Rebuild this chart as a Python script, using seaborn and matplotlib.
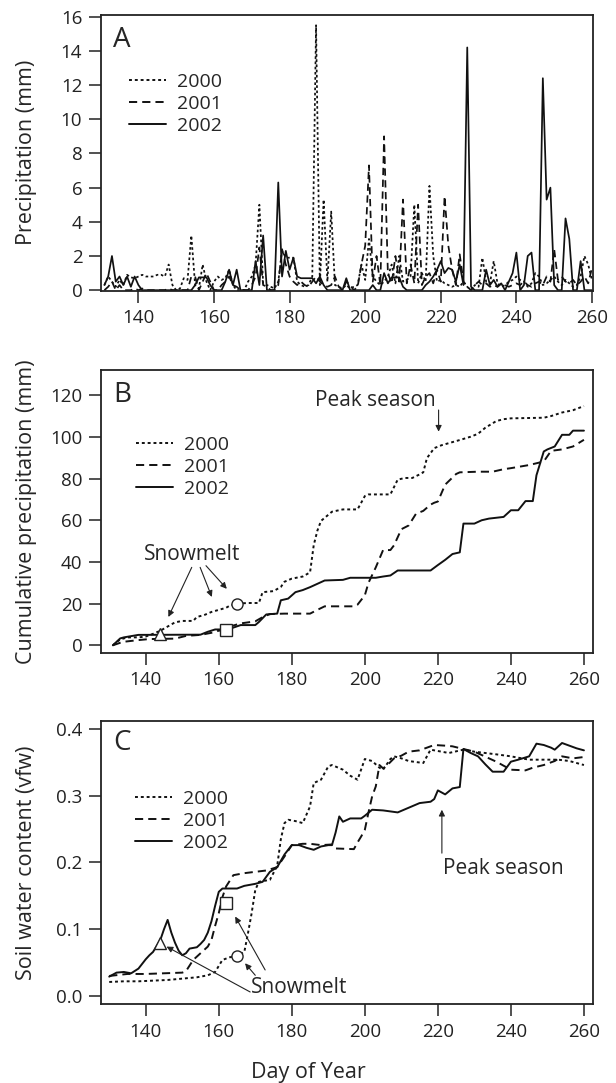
import matplotlib
matplotlib.use("Agg")
import matplotlib.pyplot as plt
import seaborn as sns
import pandas as pd

# ---------------- DATA ----------------
years = ["2000", "2001", "2002"]

# Panel A: daily precipitation (mm), day of year 131..260
precip_days = list(range(131, 261))
precip_2000 = [
    0.3, 0.8, 0.5, 0.2, 0.6, 0.3, 0.9, 0.75, 0.7, 0.8,
    0.9, 0.8, 0.8, 0.8, 0.9, 0.9, 0.8, 1.5, 0.3, 0.0,
    0.1, 0.7, 0.6, 3.2, 0.3, 0.1, 1.5, 0.5, 0.0, 0.5,
    0.8, 0.6, 0.7, 1.2, 0.3, 0.0, 0.0, 0.0, 0.5, 0.8,
    1.5, 5.0, 0.4, 0.3, 0.2, 0.1, 0.5, 2.3, 1.9, 1.9,
    1.9, 0.5, 0.3, 0.2, 0.3, 0.8, 15.5, 0.3, 5.3, 0.5,
    4.6, 0.3, 0.2, 0.1, 0.3, 0.1, 0.2, 0.3, 1.5, 0.6,
    3.0, 0.8, 0.5, 0.3, 0.5, 0.8, 1.5, 0.4, 2.0, 0.5,
    0.6, 0.8, 5.0, 0.4, 1.0, 0.5, 6.1, 2.0, 0.5, 0.6,
    0.4, 0.3, 0.2, 0.3, 0.2, 0.5, 0.2, 0.0, 0.3, 0.2,
    1.9, 0.5, 0.4, 1.7, 0.4, 0.2, 0.3, 0.5, 0.6, 0.8,
    0.6, 0.5, 0.2, 0.4, 1.0, 0.8, 0.3, 0.4, 0.6, 0.8,
    0.5, 0.3, 0.6, 0.4, 0.2, 0.3, 0.8, 2.0, 1.5, 0.6,
]
precip_2001 = [
    0.0, 0.2, 0.5, 0.0, 0.3, 0.0, 0.0, 0.0, 0.1, 0.0,
    0.1, 0.0, 0.0, 0.0, 0.0, 0.0, 0.0, 0.1, 0.0, 0.0,
    0.0, 0.0, 0.0, 0.8, 0.8, 0.0, 0.5, 1.0, 0.5, 0.0,
    0.0, 0.3, 0.5, 0.8, 0.3, 0.2, 0.0, 0.0, 0.0, 0.3,
    0.8, 2.5, 0.3, 0.2, 0.0, 0.0, 0.3, 2.4, 1.5, 0.8,
    0.5, 0.3, 0.5, 0.3, 0.2, 0.5, 0.8, 0.5, 0.3, 0.2,
    0.3, 0.8, 0.2, 0.0, 0.5, 0.3, 0.0, 0.2, 1.5, 2.6,
    7.3, 0.5, 2.0, 0.3, 9.0, 1.0, 0.4, 2.0, 0.5, 5.3,
    0.4, 1.5, 0.4, 5.0, 0.3, 0.8, 1.0, 0.4, 1.2, 0.5,
    5.5, 2.6, 1.2, 0.3, 2.1, 0.5, 0.2, 0.0, 0.3, 0.5,
    0.3, 0.4, 0.2, 0.3, 0.2, 0.4, 0.3, 0.2, 0.3, 0.4,
    0.3, 0.5, 0.3, 0.2, 0.4, 0.5, 0.3, 0.8, 0.5, 2.4,
    0.6, 0.8, 0.5, 0.4, 0.6, 0.3, 0.5, 0.8, 0.4, 1.3,
]
precip_2002 = [
    0.3, 0.8, 2.0, 0.5, 0.8, 0.3, 0.8, 0.2, 0.8, 0.3,
    0.0, 0.0, 0.0, 0.0, 0.0, 0.0, 0.0, 0.0, 0.0, 0.0,
    0.0, 0.0, 0.0, 0.0, 0.3, 0.75, 0.75, 0.75, 0.3, 0.0,
    0.0, 0.0, 0.5, 1.2, 0.3, 1.2, 0.0, 0.0, 0.0, 0.0,
    1.7, 0.3, 3.2, 0.0, 0.0, 0.0, 6.3, 0.8, 2.3, 1.2,
    1.9, 0.8, 0.7, 0.7, 0.7, 0.7, 0.4, 0.8, 0.3, 0.0,
    0.0, 0.0, 0.0, 0.0, 0.7, 0.0, 0.0, 0.0, 0.0, 0.0,
    0.0, 0.3, 0.0, 0.0, 1.0, 0.4, 0.75, 0.75, 0.75, 0.2,
    0.0, 0.0, 0.0, 0.0, 0.0, 0.3, 0.5, 0.8, 1.2, 1.7,
    1.0, 1.3, 1.2, 0.5, 1.5, 0.3, 14.2, 0.2, 0.0, 0.0,
    0.0, 1.2, 0.3, 0.6, 0.2, 0.4, 0.0, 0.5, 1.0, 2.2,
    0.0, 0.3, 2.0, 2.2, 0.0, 0.0, 12.4, 5.3, 6.0, 0.3,
    0.0, 0.0, 4.2, 3.0, 0.0, 0.0, 1.7, 0.0, 0.0, 0.0,
]

# Panel B: cumulative precipitation (mm)
cum_days_2000 = [131, 132, 133, 135, 138, 140, 142, 144, 146, 148, 150, 153, 154, 156, 158,
                 160, 162, 163, 165, 168, 171, 172, 175, 177, 178, 180, 183, 185, 186, 187,
                 188, 191, 194, 198, 200, 201, 207, 209, 211, 213, 215, 216, 217, 219, 221,
                 223, 226, 229, 231, 233, 236, 238, 240, 249, 251, 254, 257, 260]
cum_2000 = [0.0, 1.5, 2.8, 3.8, 3.8, 4.2, 5.5, 7.0, 9.0, 11.0, 11.7, 11.7, 13.6, 14.5, 16.0,
            17.0, 18.0, 19.0, 20.0, 20.3, 20.3, 25.5, 26.0, 28.0, 30.5, 32.0, 33.0, 35.0, 48.0, 55.0,
            59.7, 64.1, 65.2, 65.2, 71.6, 72.4, 72.4, 79.5, 80.3, 80.3, 82.0, 83.0, 89.8, 94.6, 96.0,
            97.0, 98.5, 100.1, 101.5, 104.4, 107.6, 108.5, 108.9, 109.2, 110.0, 111.7, 112.8, 114.8]
cum_days_2001 = [131, 133, 134, 138, 141, 148, 151, 155, 158, 160, 162, 164, 166, 170, 172,
                 174, 178, 185, 187, 189, 197, 198, 200, 201, 203, 205, 207, 208, 210, 212,
                 214, 216, 218, 219, 220, 222, 224, 225, 226, 231, 235, 238, 240, 245, 249,
                 251, 254, 257, 260]
cum_2001 = [0.0, 1.2, 1.7, 2.5, 3.0, 3.2, 4.5, 5.0, 6.0, 7.0, 7.5, 9.5, 10.5, 11.5, 13.5,
            15.0, 15.2, 15.2, 17.0, 18.7, 18.7, 19.5, 24.0, 30.0, 37.4, 45.7, 45.7, 48.0, 55.7, 57.5,
            63.1, 64.5, 67.5, 68.4, 69.0, 77.1, 80.5, 82.2, 83.0, 83.3, 83.3, 84.5, 85.0, 86.5, 88.2,
            93.3, 94.0, 95.4, 98.6]
cum_days_2002 = [131, 133, 134, 136, 138, 155, 157, 159, 162, 164, 166, 170, 171, 173, 176,
                 177, 179, 181, 183, 185, 187, 189, 194, 196, 203, 205, 207, 209, 218, 220,
                 222, 224, 226, 227, 230, 232, 234, 238, 240, 242, 244, 246, 247, 249, 250,
                 252, 254, 256, 257, 260]
cum_2002 = [0.0, 3.3, 3.8, 4.4, 5.0, 5.1, 6.5, 7.6, 7.6, 8.5, 9.7, 9.7, 11.2, 14.8, 15.2,
            21.6, 22.4, 25.5, 26.5, 27.9, 29.5, 31.1, 31.4, 32.4, 32.4, 33.0, 33.5, 35.9, 35.9, 38.5,
            41.0, 43.8, 44.6, 58.4, 58.4, 60.0, 60.8, 61.6, 64.8, 64.8, 69.2, 69.2, 81.6, 93.0, 94.0,
            95.4, 101.0, 101.0, 103.0, 103.0]

# Panel C: soil water content (vfw)
swc_days_2000 = [130, 134, 138, 142, 146, 150, 154, 157, 159, 160, 161, 163, 165, 167, 168,
                 169, 170, 171, 174, 176, 177, 178, 179, 181, 183, 185, 186, 188, 190, 191,
                 194, 196, 198, 200, 202, 204, 205, 207, 208, 210, 212, 216, 218, 221, 223,
                 227, 230, 233, 236, 240, 245, 250, 253, 256, 260]
swc_2000 = [0.021, 0.022, 0.022, 0.023, 0.024, 0.026, 0.028, 0.031, 0.036, 0.045, 0.054, 0.058,
            0.060, 0.066, 0.094, 0.124, 0.159, 0.171, 0.174, 0.195, 0.235, 0.259, 0.264, 0.262,
            0.259, 0.284, 0.319, 0.324, 0.344, 0.346, 0.339, 0.330, 0.324, 0.355, 0.352, 0.342,
            0.339, 0.355, 0.359, 0.356, 0.352, 0.349, 0.369, 0.366, 0.364, 0.369, 0.366, 0.364,
            0.362, 0.359, 0.354, 0.354, 0.354, 0.352, 0.346]
swc_days_2001 = [130, 135, 140, 145, 150, 151, 153, 155, 157, 158, 159, 160, 161, 162, 164,
                 167, 170, 173, 176, 178, 180, 183, 185, 188, 191, 192, 197, 198, 199, 200,
                 201, 202, 203, 204, 205, 206, 208, 210, 212, 215, 217, 219, 222, 224, 227,
                 230, 232, 236, 240, 244, 246, 249, 252, 254, 257, 260]
swc_2001 = [0.030, 0.033, 0.033, 0.034, 0.035, 0.037, 0.054, 0.064, 0.074, 0.084, 0.105, 0.124,
            0.148, 0.164, 0.181, 0.184, 0.186, 0.188, 0.193, 0.209, 0.226, 0.228, 0.228, 0.226,
            0.227, 0.221, 0.220, 0.230, 0.239, 0.249, 0.275, 0.299, 0.314, 0.346, 0.341, 0.345,
            0.356, 0.360, 0.366, 0.368, 0.372, 0.376, 0.375, 0.374, 0.370, 0.366, 0.361, 0.351,
            0.339, 0.338, 0.342, 0.346, 0.352, 0.359, 0.356, 0.358]
swc_days_2002 = [130, 132, 134, 136, 138, 140, 141, 142, 143, 144, 145, 146, 147, 148, 149,
                 150, 151, 152, 154, 155, 156, 157, 158, 159, 160, 161, 165, 167, 170, 172,
                 174, 176, 178, 180, 182, 184, 186, 188, 190, 191, 192, 193, 194, 196, 199,
                 200, 202, 205, 209, 212, 215, 218, 219, 220, 222, 224, 226, 227, 229, 231,
                 233, 235, 238, 240, 242, 245, 247, 249, 251, 252, 254, 256, 258, 260]
swc_2002 = [0.029, 0.035, 0.036, 0.034, 0.041, 0.055, 0.061, 0.066, 0.075, 0.084, 0.100, 0.114,
            0.095, 0.080, 0.068, 0.061, 0.064, 0.071, 0.073, 0.078, 0.084, 0.095, 0.112, 0.135,
            0.156, 0.161, 0.161, 0.165, 0.168, 0.171, 0.186, 0.193, 0.212, 0.226, 0.226, 0.222,
            0.219, 0.224, 0.226, 0.226, 0.245, 0.269, 0.261, 0.266, 0.266, 0.270, 0.279, 0.278,
            0.275, 0.282, 0.289, 0.291, 0.295, 0.308, 0.302, 0.311, 0.313, 0.370, 0.364, 0.359,
            0.347, 0.336, 0.336, 0.351, 0.354, 0.359, 0.378, 0.376, 0.372, 0.369, 0.379, 0.375,
            0.371, 0.368]

# Snowmelt markers (day, value) for 2000 (circle), 2001 (square), 2002 (triangle)
snow_days = [165, 162, 144]
snow_cum = [20.0, 7.3, 5.4]
snow_swc = [0.060, 0.140, 0.080]

# ---------------- STYLE ----------------
sns.set_style("ticks")
FONT = ["Open Sans", "DejaVu Sans"]
plt.rcParams["font.family"] = FONT
plt.rcParams["axes.edgecolor"] = "#222222"

LW = 1.4
styles = {"2000": (0, (1.5, 1.5)), "2001": (0, (4.2, 2.6)), "2002": "-"}
markers = ["o", "s", "^"]

W, H = 616, 1083
fig = plt.figure(figsize=(W / 100, H / 100), dpi=100)


def px_axes(left, top, right, bottom):
    return fig.add_axes([left / W, 1 - bottom / H, (right - left) / W, (bottom - top) / H])


axA = px_axes(101, 15, 593.3, 290.7)
axB = px_axes(101, 370, 592.7, 652.7)
axC = px_axes(101, 720.7, 592.7, 1004)


def style_axes(ax):
    for s in ax.spines.values():
        s.set_visible(True)
        s.set_linewidth(1.3)
        s.set_color("#222222")
    ax.tick_params(direction="out", length=8.5, width=1.1, labelsize=13.5, pad=5,
                   color="#222222", labelcolor="#222222")


# ---- Panel A ----
dfA = pd.DataFrame({"day": precip_days, "2000": precip_2000, "2001": precip_2001, "2002": precip_2002})
for y in years:
    sns.lineplot(data=dfA, x="day", y=y, ax=axA, color="#111111", lw=1.25,
                 linestyle=styles[y], label=y)
axA.set_xlim(130.1, 260.35)
axA.set_ylim(-0.03, 16.1)
axA.set_yticks(range(0, 17, 2))
axA.set_xticks(range(140, 261, 20))
axA.set_xlabel("")
axA.set_ylabel("Precipitation (mm)", fontsize=15.5)
style_axes(axA)
axA.text(0.024, 0.884, "A", transform=axA.transAxes, fontsize=20, va="baseline", ha="left")

# ---- Panel B ----
cum_sets = [(cum_days_2000, cum_2000), (cum_days_2001, cum_2001), (cum_days_2002, cum_2002)]
for y, (d, v) in zip(years, cum_sets):
    sns.lineplot(x=d, y=v, ax=axB, color="#111111", lw=LW, linestyle=styles[y], label=y)
for m, d, v in zip(markers, snow_days, snow_cum):
    axB.plot(d, v, marker=m, ms=8, mfc="white", mec="#222222", mew=1.0, ls="none", zorder=5)
axB.set_xlim(127.75, 262.4)
axB.set_ylim(-3.55, 132.1)
axB.set_yticks(range(0, 121, 20))
axB.set_xticks(range(140, 261, 20))
axB.set_ylabel("Cumulative precipitation (mm)", fontsize=15.5)
axB.set_xlabel("")
style_axes(axB)
axB.text(0.024, 0.887, "B", transform=axB.transAxes, fontsize=20, va="baseline", ha="left")
axB.text(152.6, 43.8, "Snowmelt", fontsize=15, ha="center", va="center")
arrow_kw = dict(arrowstyle="-|>", lw=0.8, color="#222222", mutation_scale=9, shrinkA=0, shrinkB=0)
axB.annotate("", xy=(146.2, 13.6), xytext=(152.6, 37.4), arrowprops=arrow_kw)
axB.annotate("", xy=(158.1, 23.2), xytext=(154.9, 37.4), arrowprops=arrow_kw)
axB.annotate("", xy=(162.2, 27.1), xytext=(156.5, 38.2), arrowprops=arrow_kw)
axB.text(203.0, 117.6, "Peak season", fontsize=15, ha="center", va="center")
axB.annotate("", xy=(220.2, 102.5), xytext=(220.2, 112.9), arrowprops=arrow_kw)

# ---- Panel C ----
swc_sets = [(swc_days_2000, swc_2000), (swc_days_2001, swc_2001), (swc_days_2002, swc_2002)]
for y, (d, v) in zip(years, swc_sets):
    sns.lineplot(x=d, y=v, ax=axC, color="#111111", lw=LW, linestyle=styles[y], label=y)
for m, d, v in zip(markers, snow_days, snow_swc):
    axC.plot(d, v, marker=m, ms=8, mfc="white", mec="#222222", mew=1.0, ls="none", zorder=5)
axC.set_xlim(127.75, 262.4)
axC.set_ylim(-0.012, 0.4124)
axC.set_yticks([0.0, 0.1, 0.2, 0.3, 0.4])
axC.set_yticklabels(["0.0", "0.1", "0.2", "0.3", "0.4"])
axC.set_xticks(range(140, 261, 20))
axC.set_ylabel("Soil water content (vfw)", fontsize=15.5)
axC.set_xlabel("")
style_axes(axC)
axC.text(0.024, 0.897, "C", transform=axC.transAxes, fontsize=20, va="baseline", ha="left")
axC.text(168.8, 0.0125, "Snowmelt", fontsize=15, ha="left", va="center")
axC.annotate("", xy=(145.7, 0.074), xytext=(168.6, 0.006), arrowprops=arrow_kw)
axC.annotate("", xy=(167.2, 0.049), xytext=(170.0, 0.031), arrowprops=arrow_kw)
axC.annotate("", xy=(164.5, 0.119), xytext=(172.7, 0.039), arrowprops=arrow_kw)
axC.text(221.3, 0.191, "Peak season", fontsize=15, ha="left", va="center")
axC.annotate("", xy=(221.1, 0.279), xytext=(221.1, 0.214), arrowprops=arrow_kw)

fig.text(0.5, 1 - 1078 / H, "Day of Year", fontsize=15.5, ha="center", va="baseline")

# legends
for ax, anchor in [(axA, (0.057, 0.79)), (axB, (0.071, 0.767)), (axC, (0.069, 0.756))]:
    leg = ax.legend(loc="upper left", bbox_to_anchor=anchor, frameon=False, fontsize=14,
                    handlelength=1.9, handletextpad=0.57, labelspacing=0.2,
                    borderpad=0, borderaxespad=0)
    for line in leg.get_lines():
        line.set_linewidth(LW)

# y-label positions
for ax in (axA, axB, axC):
    ax.yaxis.set_label_coords(-0.13, 0.5)

fig.savefig("out.png", dpi=100)
